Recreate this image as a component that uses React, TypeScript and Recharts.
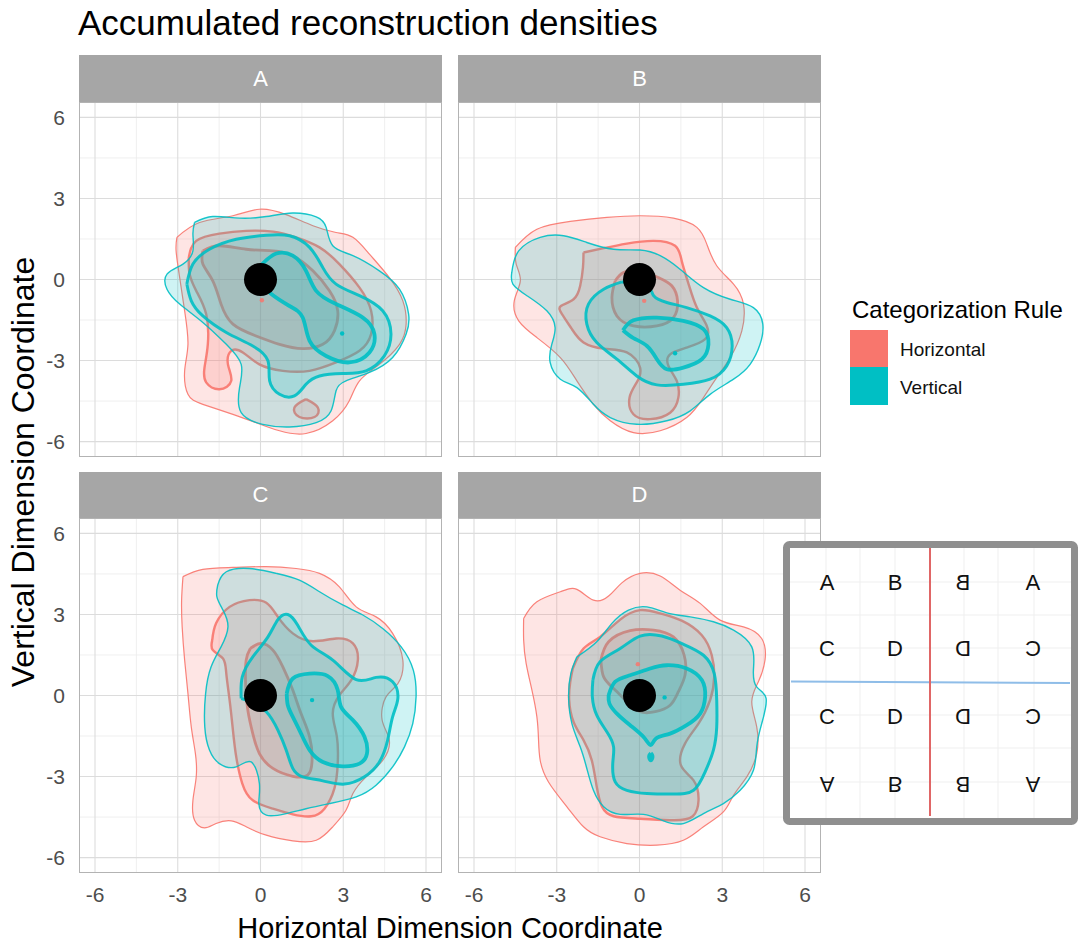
import React from 'react';
import { ScatterChart, Scatter, XAxis, YAxis, ReferenceLine } from 'recharts';

// ---------- categories / labels ----------
const panelNames = ['A', 'B', 'C', 'D'];
const seriesNames = ['Horizontal', 'Vertical'];
const tickValues = [-6, -3, 0, 3, 6];
const minorValues = [-4.5, -1.5, 1.5, 4.5];
const insetRows = [
  ['A', 'B', 'B', 'A'],
  ['C', 'D', 'D', 'C'],
  ['C', 'D', 'D', 'C'],
  ['A', 'B', 'B', 'A'],
];

// ---------- contour data (x, y) ----------
// Panel A
const A_H1 = [[-3.03,1.56],[-2.21,2.11],[-1.0,2.36],[-0.04,2.6],[0.93,2.4],[1.9,1.99],[2.74,1.74],[3.35,1.56],[3.95,0.94],[4.67,0.07],[5.16,-0.79],[5.28,-1.65],[5.04,-2.4],[4.31,-3.14],[3.59,-3.75],[3.22,-4.49],[2.62,-5.23],[1.65,-5.7],[0.69,-5.6],[-0.16,-5.3],[-1.0,-4.99],[-2.09,-4.62],[-2.63,-4.25],[-2.75,-3.38],[-2.63,-2.4],[-2.75,-1.16],[-2.93,0.07],[-3.06,1.06]];
const A_H2 = [[-2.6,0.81],[-2.33,1.43],[-1.49,1.7],[-0.52,1.8],[0.45,1.77],[1.29,1.56],[2.14,1.19],[2.86,0.57],[3.59,-0.3],[4.01,-1.16],[4.01,-2.02],[3.59,-2.64],[2.74,-3.07],[1.78,-3.38],[0.81,-3.38],[-0.04,-3.14],[-0.64,-2.7],[-1.06,-2.64],[-1.18,-3.14],[-1.06,-3.75],[-1.49,-4.06],[-1.97,-3.81],[-2.03,-3.26],[-1.91,-2.4],[-1.97,-1.28],[-2.33,-0.42],[-2.57,0.2]];
const A_H2b = [[1.65,-4.43],[2.08,-4.74],[1.96,-5.09],[1.41,-5.09],[1.23,-4.74]];
const A_H3 = [[-2.09,1.06],[-1.49,1.25],[-0.52,1.12],[0.45,1.06],[1.17,0.88],[1.9,0.32],[2.5,-0.42],[2.8,-1.16],[2.68,-1.9],[2.26,-2.4],[1.53,-2.56],[0.69,-2.4],[-0.16,-2.09],[-1.0,-1.65],[-1.43,-0.91],[-1.73,-0.05],[-2.09,0.57]];
const A_V1 = [[-2.39,2.11],[-1.73,2.33],[-0.76,2.27],[0.21,2.33],[1.17,2.46],[2.02,2.32],[2.38,1.93],[2.62,1.25],[3.35,0.88],[4.31,0.32],[5.04,-0.36],[5.37,-1.28],[5.28,-2.02],[4.79,-2.89],[3.95,-3.44],[3.1,-3.75],[2.74,-4.12],[2.56,-4.86],[2.02,-5.3],[1.05,-5.46],[0.08,-5.36],[-0.7,-4.93],[-0.76,-4.0],[-0.7,-3.14],[-1.24,-2.4],[-2.09,-1.59],[-2.93,-0.91],[-3.39,-0.36],[-3.39,0.2],[-2.81,0.57],[-2.45,1.06],[-2.45,1.68]];
const A_V2 = [[-2.67,-0.17],[-2.45,0.57],[-1.85,1.12],[-0.88,1.49],[0.21,1.64],[1.05,1.62],[1.78,1.19],[2.26,0.44],[2.74,-0.17],[3.59,-0.6],[4.43,-1.16],[4.73,-2.02],[4.49,-2.83],[3.83,-3.38],[2.98,-3.48],[2.14,-3.57],[1.65,-3.88],[1.23,-4.31],[0.69,-4.25],[0.33,-3.75],[0.27,-3.01],[-0.28,-2.46],[-1.24,-1.96],[-2.09,-1.35],[-2.51,-0.79]];
const A_V3 = [[0.06,0.57],[0.57,0.96],[1.17,0.88],[1.65,0.32],[2.02,-0.42],[2.74,-0.91],[3.71,-1.41],[4.13,-2.02],[3.95,-2.7],[3.22,-3.07],[2.38,-2.83],[1.78,-2.27],[1.53,-1.41],[1.05,-0.98],[0.39,-0.54],[0.02,-0.05]];
const A_dots = [[0.05,-0.77],[2.96,-2.0]];

// Panel B
const B_H1 = [[-4.5,1.19],[-3.72,1.86],[-2.51,2.15],[-1.18,2.3],[0.02,2.36],[1.23,2.27],[2.08,1.93],[2.44,1.31],[2.8,0.51],[3.41,-0.17],[3.77,-0.91],[3.71,-1.9],[3.29,-2.89],[2.8,-3.63],[2.32,-4.37],[1.71,-5.11],[0.75,-5.6],[-0.22,-5.67],[-1.06,-5.23],[-1.67,-4.62],[-2.27,-3.75],[-2.87,-2.89],[-3.72,-2.15],[-4.38,-1.53],[-4.54,-0.79],[-4.32,-0.05],[-4.47,0.57]];
const B_H2 = [[-2.03,1.0],[-1.3,1.16],[-0.46,1.33],[0.51,1.43],[1.29,1.25],[1.53,0.69],[1.78,-0.17],[2.08,-1.04],[2.44,-1.72],[2.38,-2.21],[1.71,-2.52],[1.11,-2.77],[1.05,-3.2],[1.35,-3.75],[1.41,-4.37],[1.11,-4.93],[0.39,-5.17],[-0.22,-4.99],[-0.36,-4.37],[-0.1,-3.81],[0.02,-3.26],[-0.46,-2.7],[-1.3,-2.56],[-2.03,-2.33],[-2.45,-1.84],[-2.81,-1.28],[-2.85,-0.98],[-2.39,-0.73],[-2.15,-0.23],[-2.05,0.44]];
const B_H3 = [[-0.88,-0.05],[-1.0,-0.67],[-0.82,-1.35],[-0.22,-1.72],[0.63,-1.72],[1.23,-1.41],[1.38,-0.79],[1.17,-0.23],[0.69,0.07],[0.02,0.32],[-0.58,0.26]];
const B_V1 = [[-4.63,0.26],[-4.38,1.06],[-3.6,1.56],[-2.75,1.62],[-1.91,1.37],[-0.94,1.12],[0.02,1.09],[0.75,0.88],[1.47,0.38],[2.32,-0.3],[3.29,-0.73],[4.13,-1.04],[4.47,-1.65],[4.37,-2.4],[4.01,-3.14],[3.41,-3.69],[2.56,-4.25],[1.84,-4.86],[0.99,-5.23],[-0.1,-5.36],[-1.06,-5.11],[-1.67,-4.62],[-2.27,-4.0],[-2.87,-3.69],[-3.24,-3.07],[-3.18,-2.4],[-3.06,-1.78],[-3.36,-1.16],[-4.08,-0.6],[-4.59,-0.17]];
const B_V2 = [[-0.64,-0.09],[-1.3,-0.36],[-1.85,-0.91],[-1.91,-1.65],[-1.55,-2.33],[-0.82,-2.95],[-0.1,-3.57],[0.63,-3.9],[1.59,-3.88],[2.56,-3.69],[3.16,-3.2],[3.36,-2.46],[3.16,-1.78],[2.56,-1.35],[1.71,-1.04],[0.99,-0.85],[0.51,-0.6],[0.27,-0.23]];
const B_V3 = [[-0.6,-1.88],[-0.22,-1.51],[0.63,-1.41],[1.59,-1.53],[2.32,-1.84],[2.5,-2.4],[2.26,-2.95],[1.59,-3.26],[0.99,-3.32],[0.63,-2.95],[0.27,-2.46],[-0.22,-2.17]];
const B_dots = [[0.17,-0.79],[1.29,-2.73]];

// Panel C
const C_H1 = [[-2.81,4.4],[-2.09,4.67],[-1.0,4.74],[0.21,4.77],[1.29,4.7],[2.14,4.52],[2.86,4.02],[3.47,3.28],[4.19,2.91],[4.79,2.3],[5.16,1.31],[4.98,0.44],[4.55,-0.05],[4.41,-0.91],[4.67,-1.65],[4.43,-2.4],[3.83,-3.01],[3.35,-3.63],[3.1,-4.25],[2.62,-4.86],[2.02,-5.36],[1.17,-5.38],[0.21,-5.17],[-0.52,-4.86],[-1.06,-4.64],[-1.61,-4.74],[-2.03,-4.9],[-2.39,-4.62],[-2.45,-3.88],[-2.33,-3.01],[-2.36,-2.15],[-2.51,-1.16],[-2.63,0.07],[-2.75,1.31],[-2.84,2.54],[-2.86,3.53]];
const C_H2 = [[-1.75,2.05],[-1.61,2.67],[-1.12,3.28],[-0.4,3.53],[0.21,3.43],[0.63,2.91],[1.17,2.3],[1.9,2.01],[2.74,2.11],[3.35,1.93],[3.53,1.31],[3.29,0.57],[2.86,0.01],[2.62,-0.67],[2.77,-1.53],[2.8,-2.52],[2.68,-3.44],[2.32,-4.19],[1.84,-4.47],[1.17,-4.4],[0.45,-4.19],[-0.28,-3.88],[-0.66,-3.26],[-0.88,-2.27],[-1.0,-1.28],[-1.12,-0.17],[-1.24,0.81],[-1.36,1.37],[-1.73,1.68]];
const C_H3 = [[-0.37,1.74],[0.02,1.93],[0.45,1.68],[0.81,1.06],[1.17,0.2],[1.47,-0.67],[1.78,-1.53],[1.87,-2.4],[1.71,-2.95],[1.17,-2.99],[0.45,-2.7],[-0.04,-2.15],[-0.28,-1.41],[-0.46,-0.54],[-0.54,0.44],[-0.52,1.31]];
const C_V1 = [[-1.55,4.09],[-1.24,4.58],[-0.4,4.7],[0.57,4.52],[1.41,4.27],[2.14,3.84],[2.98,3.35],[3.71,2.98],[4.43,2.48],[5.1,1.8],[5.54,0.94],[5.64,-0.05],[5.52,-1.04],[5.22,-1.9],[4.79,-2.64],[4.19,-3.32],[3.47,-3.75],[2.5,-4.0],[1.65,-4.19],[0.93,-4.37],[0.21,-4.43],[-0.06,-4.0],[-0.04,-3.26],[-0.34,-2.46],[-0.88,-2.64],[-1.49,-2.52],[-1.85,-2.02],[-2.02,-1.16],[-1.99,0.07],[-1.79,1.06],[-1.43,1.8],[-1.18,2.54],[-1.36,3.16],[-1.58,3.65]];
const C_V2 = [[-0.7,-0.11],[-0.66,0.69],[-0.28,1.43],[0.27,2.17],[0.63,2.81],[0.99,3.0],[1.35,2.6],[1.84,1.86],[2.62,1.31],[3.47,0.59],[4.19,0.67],[4.79,0.51],[4.98,-0.11],[4.79,-0.79],[4.61,-1.65],[4.31,-2.46],[3.77,-3.01],[3.04,-3.28],[2.26,-3.16],[1.53,-3.01],[1.17,-2.7],[0.93,-2.02],[0.63,-1.28],[0.21,-0.6],[-0.34,-0.23]];
const C_V3 = [[0.95,0.07],[1.17,0.63],[1.78,0.81],[2.44,0.72],[2.8,0.2],[2.92,-0.42],[3.35,-0.91],[3.77,-1.53],[3.86,-2.15],[3.59,-2.52],[2.98,-2.62],[2.26,-2.46],[1.78,-2.02],[1.47,-1.41],[1.17,-0.79],[0.99,-0.36]];
const C_dots = [[-0.1,0.05],[1.87,-0.17]];

// Panel D
const D_H1 = [[-4.2,2.85],[-3.72,3.47],[-2.87,3.84],[-2.27,3.93],[-1.67,3.53],[-1.12,3.68],[-0.64,4.17],[0.02,4.52],[0.75,4.42],[1.47,3.9],[2.2,3.41],[2.92,2.79],[3.77,2.54],[4.43,2.11],[4.55,1.31],[4.31,0.51],[4.07,-0.23],[4.25,-1.16],[4.25,-2.15],[3.89,-3.01],[3.41,-3.69],[3.04,-4.31],[2.32,-4.86],[1.59,-5.36],[0.63,-5.54],[-0.46,-5.48],[-1.43,-5.23],[-2.03,-4.86],[-2.63,-4.12],[-3.3,-3.2],[-3.6,-2.4],[-3.66,-1.65],[-3.72,-0.79],[-3.9,0.2],[-4.11,1.19],[-4.2,2.05]];
const D_H2 = [[-2.42,1.0],[-2.03,1.74],[-1.43,2.17],[-0.7,2.81],[0.02,3.16],[0.75,3.04],[1.53,2.77],[2.26,2.23],[2.62,1.49],[2.71,0.69],[2.56,-0.17],[2.14,-1.04],[1.65,-1.78],[1.5,-2.58],[1.96,-3.14],[2.14,-3.88],[1.93,-4.47],[1.23,-4.62],[0.02,-4.56],[-0.94,-4.47],[-1.36,-4.12],[-1.55,-3.38],[-1.73,-2.4],[-2.03,-1.65],[-2.39,-0.98],[-2.55,-0.17],[-2.51,0.51]];
const D_H3 = [[-1.4,1.31],[-1.12,1.99],[-0.34,2.4],[0.51,2.42],[1.23,2.17],[1.62,1.49],[1.65,0.75],[1.41,0.14],[1.11,-0.36],[0.57,-0.6],[0.02,-0.6],[-0.46,-0.23],[-0.94,0.26],[-1.3,0.69]];
const D_V1 = [[-2.27,1.43],[-1.55,1.99],[-1.0,2.67],[-0.4,3.16],[0.27,3.28],[0.99,3.06],[1.84,2.91],[2.68,2.73],[3.41,2.42],[4.07,1.8],[4.13,0.94],[4.25,0.32],[4.59,-0.11],[4.43,-1.04],[4.25,-1.9],[4.13,-2.77],[3.65,-3.51],[3.04,-4.0],[2.32,-4.37],[1.59,-4.74],[0.87,-4.64],[0.14,-4.4],[-0.7,-4.4],[-1.3,-4.12],[-1.67,-3.51],[-1.91,-2.7],[-2.15,-1.9],[-2.45,-1.04],[-2.57,-0.05],[-2.49,0.81]];
const D_V2 = [[-1.69,0.57],[-1.43,1.25],[-0.7,1.74],[0.02,2.2],[0.81,2.2],[1.59,1.9],[2.32,1.49],[2.71,0.81],[2.8,-0.17],[2.8,-1.16],[2.68,-2.02],[2.38,-2.83],[1.96,-3.51],[1.23,-3.65],[0.27,-3.63],[-0.46,-3.51],[-0.88,-3.2],[-0.97,-2.52],[-0.94,-1.9],[-1.18,-1.35],[-1.55,-0.73],[-1.71,-0.05]];
const D_V3 = [[-1.12,0.01],[-0.88,0.51],[-0.34,0.75],[0.39,1.0],[0.99,1.12],[1.71,1.0],[2.26,0.57],[2.38,-0.05],[2.2,-0.67],[1.71,-1.1],[1.11,-1.41],[0.6,-1.59],[0.41,-1.84],[0.14,-1.53],[-0.34,-1.1],[-0.82,-0.67],[-1.09,-0.3]];
const D_V3b = [[0.41,-2.14],[0.46,-2.2],[0.47,-2.3],[0.43,-2.39],[0.39,-2.39],[0.35,-2.3],[0.36,-2.2]];
const D_dots = [[-0.06,1.16],[0.91,-0.07]];

const originPoint = [[0, 0]];

// ---------- style ----------
const RED = '#F8766D';
const TEAL = '#00BFC4';
const RED_W = [1.2, 2.4, 2.8];
const TEAL_W = [1.4, 3.0, 3.8];
const FONT = '"Liberation Sans", Arial, Helvetica, sans-serif';
const PW = 363;
const PH = 355;
const PLOT_LEFT = [79, 458];
const PLOT_TOP = [102, 518];
const XDOM: [number, number] = [-6.58, 6.58];
const YDOM: [number, number] = [-6.57, 6.57];

type Level = { data: number[][]; level: number };
type PanelDef = {
  name: string;
  col: number;
  row: number;
  red: Level[];
  teal: Level[];
  dots: number[][];
};

const panels: PanelDef[] = [
  { name: panelNames[0], col: 0, row: 0,
    red: [{ data: A_H1, level: 0 }, { data: A_H2, level: 1 }, { data: A_H2b, level: 1 }, { data: A_H3, level: 2 }],
    teal: [{ data: A_V1, level: 0 }, { data: A_V2, level: 1 }, { data: A_V3, level: 2 }],
    dots: A_dots },
  { name: panelNames[1], col: 1, row: 0,
    red: [{ data: B_H1, level: 0 }, { data: B_H2, level: 1 }, { data: B_H3, level: 2 }],
    teal: [{ data: B_V1, level: 0 }, { data: B_V2, level: 1 }, { data: B_V3, level: 2 }],
    dots: B_dots },
  { name: panelNames[2], col: 0, row: 1,
    red: [{ data: C_H1, level: 0 }, { data: C_H2, level: 1 }, { data: C_H3, level: 2 }],
    teal: [{ data: C_V1, level: 0 }, { data: C_V2, level: 1 }, { data: C_V3, level: 2 }],
    dots: C_dots },
  { name: panelNames[3], col: 1, row: 1,
    red: [{ data: D_H1, level: 0 }, { data: D_H2, level: 1 }, { data: D_H3, level: 2 }],
    teal: [{ data: D_V1, level: 0 }, { data: D_V2, level: 1 }, { data: D_V3, level: 2 }, { data: D_V3b, level: 2 }],
    dots: D_dots },
];

const toPts = (arr: number[][]) => arr.map(([x, y]) => ({ x, y }));
const toClosedPts = (arr: number[][]) => toPts([...arr, arr[0]]);
const noShape = () => <g />;

function contour(lv: Level, color: string, key: string) {
  const w = (color === RED ? RED_W : TEAL_W)[lv.level];
  return (
    <Scatter
      key={key}
      data={toClosedPts(lv.data)}
      lineType="joint"
      lineJointType="natural"
      line={{
        stroke: color,
        strokeWidth: w,
        strokeOpacity: 0.9,
        fill: color,
        fillOpacity: 0.19,
        strokeLinejoin: 'round',
      }}
      shape={noShape}
      isAnimationActive={false}
    />
  );
}

function Panel({ p }: { p: PanelDef }) {
  const showY = p.col === 0;
  const showX = p.row === 1;
  const yw = showY ? 79 : 0;
  const xh = showX ? 40 : 0;
  const left = PLOT_LEFT[p.col] - yw;
  const top = PLOT_TOP[p.row];
  return (
    <div style={{ position: 'absolute', left, top, width: PW + yw, height: PH + xh }}>
      <ScatterChart width={PW + yw} height={PH + xh} margin={{ top: 0, right: 0, bottom: 0, left: 0 }}>
        <XAxis
          type="number"
          dataKey="x"
          domain={XDOM}
          allowDataOverflow
          ticks={tickValues}
          hide={!showX}
          height={xh}
          axisLine={false}
          tickLine={false}
          tickSize={0}
          tickMargin={14}
          tick={{ fill: '#4d4d4d', fontSize: 21, fontFamily: FONT }}
        />
        <YAxis
          type="number"
          dataKey="y"
          domain={YDOM}
          allowDataOverflow
          ticks={tickValues}
          hide={!showY}
          width={yw}
          axisLine={false}
          tickLine={false}
          tickSize={0}
          tickMargin={14}
          tick={{ fill: '#4d4d4d', fontSize: 21, fontFamily: FONT }}
        />
        {minorValues.map((v) => (
          <ReferenceLine key={'mx' + v} x={v} stroke="#ebebeb" strokeWidth={0.8} />
        ))}
        {minorValues.map((v) => (
          <ReferenceLine key={'my' + v} y={v} stroke="#ebebeb" strokeWidth={0.8} />
        ))}
        {tickValues.map((v) => (
          <ReferenceLine key={'gx' + v} x={v} stroke="#dcdcdc" strokeWidth={1.1} />
        ))}
        {tickValues.map((v) => (
          <ReferenceLine key={'gy' + v} y={v} stroke="#dcdcdc" strokeWidth={1.1} />
        ))}
        {p.red.map((lv, i) => contour(lv, RED, 'r' + i))}
        {p.teal.map((lv, i) => contour(lv, TEAL, 't' + i))}
        <Scatter
          data={toPts([p.dots[0]])}
          isAnimationActive={false}
          shape={(s: any) => <circle cx={s.cx} cy={s.cy} r={2.2} fill={RED} fillOpacity={0.85} />}
        />
        <Scatter
          data={toPts([p.dots[1]])}
          isAnimationActive={false}
          shape={(s: any) => <circle cx={s.cx} cy={s.cy} r={2.2} fill={TEAL} />}
        />
        <Scatter
          data={toPts(originPoint)}
          isAnimationActive={false}
          shape={(s: any) => <circle cx={s.cx} cy={s.cy} r={16.5} fill="#000" />}
        />
      </ScatterChart>
      <div
        style={{
          position: 'absolute',
          left: yw,
          top: 0,
          width: PW,
          height: PH,
          border: '1px solid #b3b3b3',
          boxSizing: 'border-box',
          pointerEvents: 'none',
        }}
      />
    </div>
  );
}

function Strip({ p }: { p: PanelDef }) {
  const top = p.row === 0 ? 55 : 472;
  const h = PLOT_TOP[p.row] - top;
  return (
    <div
      style={{
        position: 'absolute',
        left: PLOT_LEFT[p.col],
        top,
        width: PW,
        height: h,
        background: '#a6a6a6',
        color: '#ffffff',
        fontSize: 22,
        fontFamily: FONT,
        display: 'flex',
        alignItems: 'center',
        justifyContent: 'center',
      }}
    >
      {p.name}
    </div>
  );
}

const insetCols = [827, 895, 963, 1033];
const insetRowY = [582, 648, 716, 784];
const insetFaintX = [826, 860, 895, 964, 998, 1034];
const insetFaintY = [582, 615, 648, 715, 748, 782];

function flipFor(r: number, c: number) {
  const sx = c >= 2 ? -1 : 1;
  const sy = r >= 2 ? -1 : 1;
  return `scale(${sx},${sy})`;
}

function Inset() {
  return (
    <svg
      width={1078}
      height={943}
      style={{ position: 'absolute', left: 0, top: 0, pointerEvents: 'none' }}
    >
      <rect x={786.5} y={544.5} width={288} height={277} rx={3} fill="#ffffff" stroke="#8f8f8f" strokeWidth={7} />
      {insetFaintX.map((x) => (
        <line key={'fx' + x} x1={x} x2={x} y1={548} y2={818} stroke="#efefef" strokeWidth={1} />
      ))}
      {insetFaintY.map((y) => (
        <line key={'fy' + y} x1={790} x2={1071} y1={y} y2={y} stroke="#efefef" strokeWidth={1} />
      ))}
      <line x1={791} x2={1070} y1={681.5} y2={683} stroke="#8fbde8" strokeWidth={2} />
      <line x1={930} x2={930} y1={548} y2={816} stroke="#e06666" strokeWidth={2} />
      {insetRows.map((row, r) =>
        row.map((ch, c) => (
          <g key={r + '-' + c} transform={`translate(${insetCols[c]},${insetRowY[r]}) ${flipFor(r, c)}`}>
            <text
              x={0}
              y={0}
              textAnchor="middle"
              dominantBaseline="central"
              fontSize={22}
              fontFamily={FONT}
              fill="#111"
            >
              {ch}
            </text>
          </g>
        ))
      )}
    </svg>
  );
}

function Overlay() {
  return (
    <svg width={1078} height={943} style={{ position: 'absolute', left: 0, top: 0 }}>
      <text x={78} y={35} fontSize={35} fontFamily={FONT} fill="#000">
        Accumulated reconstruction densities
      </text>
      <text x={450} y={938} textAnchor="middle" fontSize={29} fontFamily={FONT} fill="#000">
        Horizontal Dimension Coordinate
      </text>
      <text
        transform="translate(34,472) rotate(-90)"
        textAnchor="middle"
        fontSize={32}
        fontFamily={FONT}
        fill="#000"
      >
        Vertical Dimension Coordinate
      </text>
      <text x={852} y={318} fontSize={24} fontFamily={FONT} fill="#000">
        Categorization Rule
      </text>
      <rect x={850} y={330} width={38} height={37} fill={RED} />
      <rect x={850} y={367} width={38} height={38} fill={TEAL} />
      <text x={900} y={349} dominantBaseline="central" fontSize={19} fontFamily={FONT} fill="#111">
        {seriesNames[0]}
      </text>
      <text x={900} y={387} dominantBaseline="central" fontSize={19} fontFamily={FONT} fill="#111">
        {seriesNames[1]}
      </text>
    </svg>
  );
}

export default function App() {
  return (
    <div
      style={{
        position: 'absolute',
        left: 0,
        top: 0,
        width: 1078,
        height: 943,
        background: '#ffffff',
        fontFamily: FONT,
        overflow: 'hidden',
      }}
    >
      <Overlay />
      {panels.map((p) => (
        <Strip key={'s' + p.name} p={p} />
      ))}
      {panels.map((p) => (
        <Panel key={'p' + p.name} p={p} />
      ))}
      <Inset />
    </div>
  );
}
